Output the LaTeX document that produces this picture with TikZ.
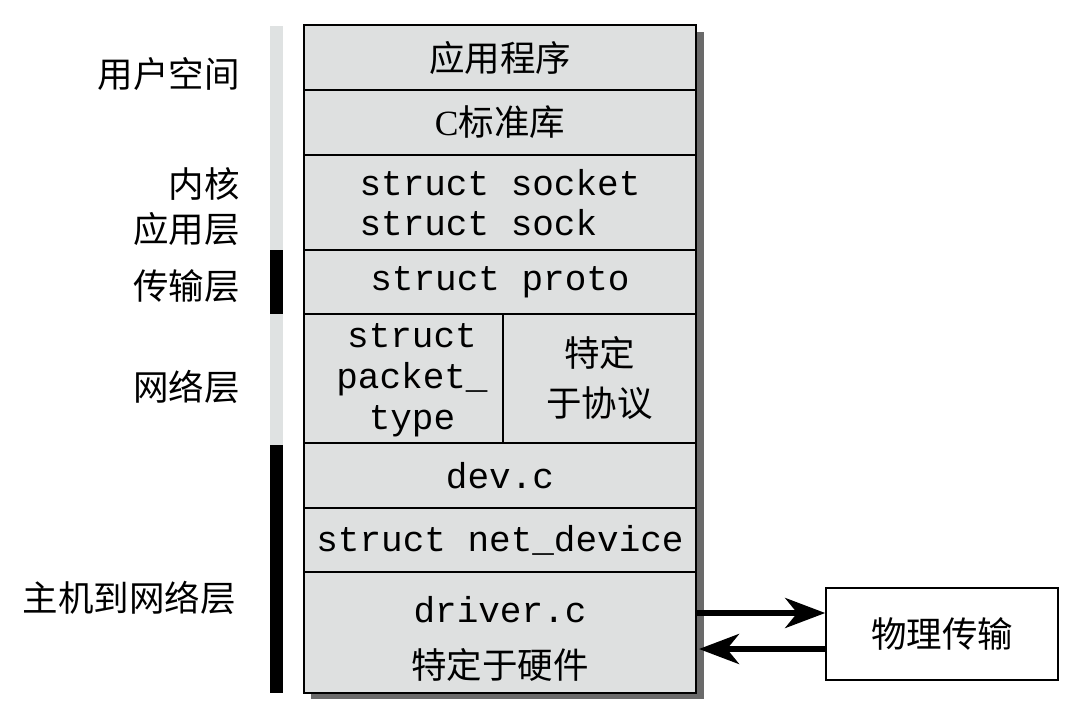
\documentclass[tikz,border=0pt]{standalone}
\usepackage{fontspec}
\setmainfont{Liberation Serif}
\setmonofont{Liberation Mono}
\newfontfamily\cjk{Noto Sans CJK SC}
\usetikzlibrary{arrows.meta}
\definecolor{boxfill}{HTML}{DEE0E0}
\definecolor{shadowgray}{HTML}{6A6A6A}
\definecolor{barlight}{HTML}{DFE2E2}
\tikzset{
  layer/.style={draw=black, line width=1.6pt, fill=boxfill, inner sep=0pt, align=center},
  cjktext/.style={font=\cjk\fontsize{35.5}{42}\selectfont},
  monotext/.style={font=\ttfamily\fontsize{36}{40}\selectfont},
  sidelabel/.style={font=\cjk\fontsize{35.5}{45}\selectfont, anchor=east, align=right, inner sep=0pt},
  bigarrow/.style={line width=5.5pt, -{Stealth[length=40pt,width=30pt,inset=12pt]}},
}
\begin{document}
\begin{tikzpicture}[x=1pt,y=-1pt]
\useasboundingbox (0,0) rectangle (1072,726);
% left bar
\fill[barlight] (270,26) rectangle (283,693);
\fill[black] (270,250) rectangle (283,314);
\fill[black] (270,445) rectangle (283,693);
% shadow
\fill[shadowgray] (311,32) rectangle (704,699);
% layers
\node[layer, cjktext, minimum width=392pt, minimum height=65pt] (app) at (500,57.5) {应用程序};
\node[layer, cjktext, minimum width=392pt, minimum height=65pt] (clib) at (500,122.5) {{\rmfamily C}标准库};
\node[layer, monotext, minimum width=392pt, minimum height=95pt, align=left] (sock) at (500,202.5) {struct socket\\struct sock};
\node[layer, monotext, minimum width=392pt, minimum height=64pt] (proto) at (500,282) {struct proto};
\node[layer, minimum width=199pt, minimum height=129pt] (pkt) at (403.5,378.5) {};
\node[monotext, inner sep=0pt, align=center, font=\ttfamily\fontsize{36}{41}\selectfont] (pkttext) at (412,380) {struct\\packet\_\\type};
\node[layer, cjktext, minimum width=193pt, minimum height=129pt, font=\cjk\fontsize{35.5}{50}\selectfont] (spec) at (599.5,378.5) {特定\\于协议};
\node[layer, monotext, minimum width=392pt, minimum height=65pt] (dev) at (500,475.5) {dev.c};
\node[layer, monotext, minimum width=392pt, minimum height=64pt] (netdev) at (500,540) {struct net\_device};
\node[layer, minimum width=392pt, minimum height=121pt] (drv) at (500,632.5) {};
\node[monotext, inner sep=0pt] (drvc) at (500,610) {driver.c};
\node[cjktext, inner sep=0pt] (hw) at (500,665) {特定于硬件};
\draw[line width=2pt] (304,25) rectangle (696,693);
% side labels
\node[sidelabel] (user) at (240,74) {用户空间};
\node[sidelabel] (kapp) at (240,207) {内核\\应用层};
\node[sidelabel] (trans) at (240,286) {传输层};
\node[sidelabel] (netl) at (240,387) {网络层};
\node[sidelabel] (host) at (236,598) {主机到网络层};
% physical box
\node[draw=black, line width=1.6pt, fill=white, cjktext, minimum width=232pt, minimum height=92pt] (phys) at (942,634) {物理传输};
\coordinate (outA) at (696,613);
\coordinate (inB) at (699,649);
\draw[bigarrow] (outA) -- (phys.west |- outA);
\draw[bigarrow] (phys.west |- inB) -- (inB);
\end{tikzpicture}
\end{document}
